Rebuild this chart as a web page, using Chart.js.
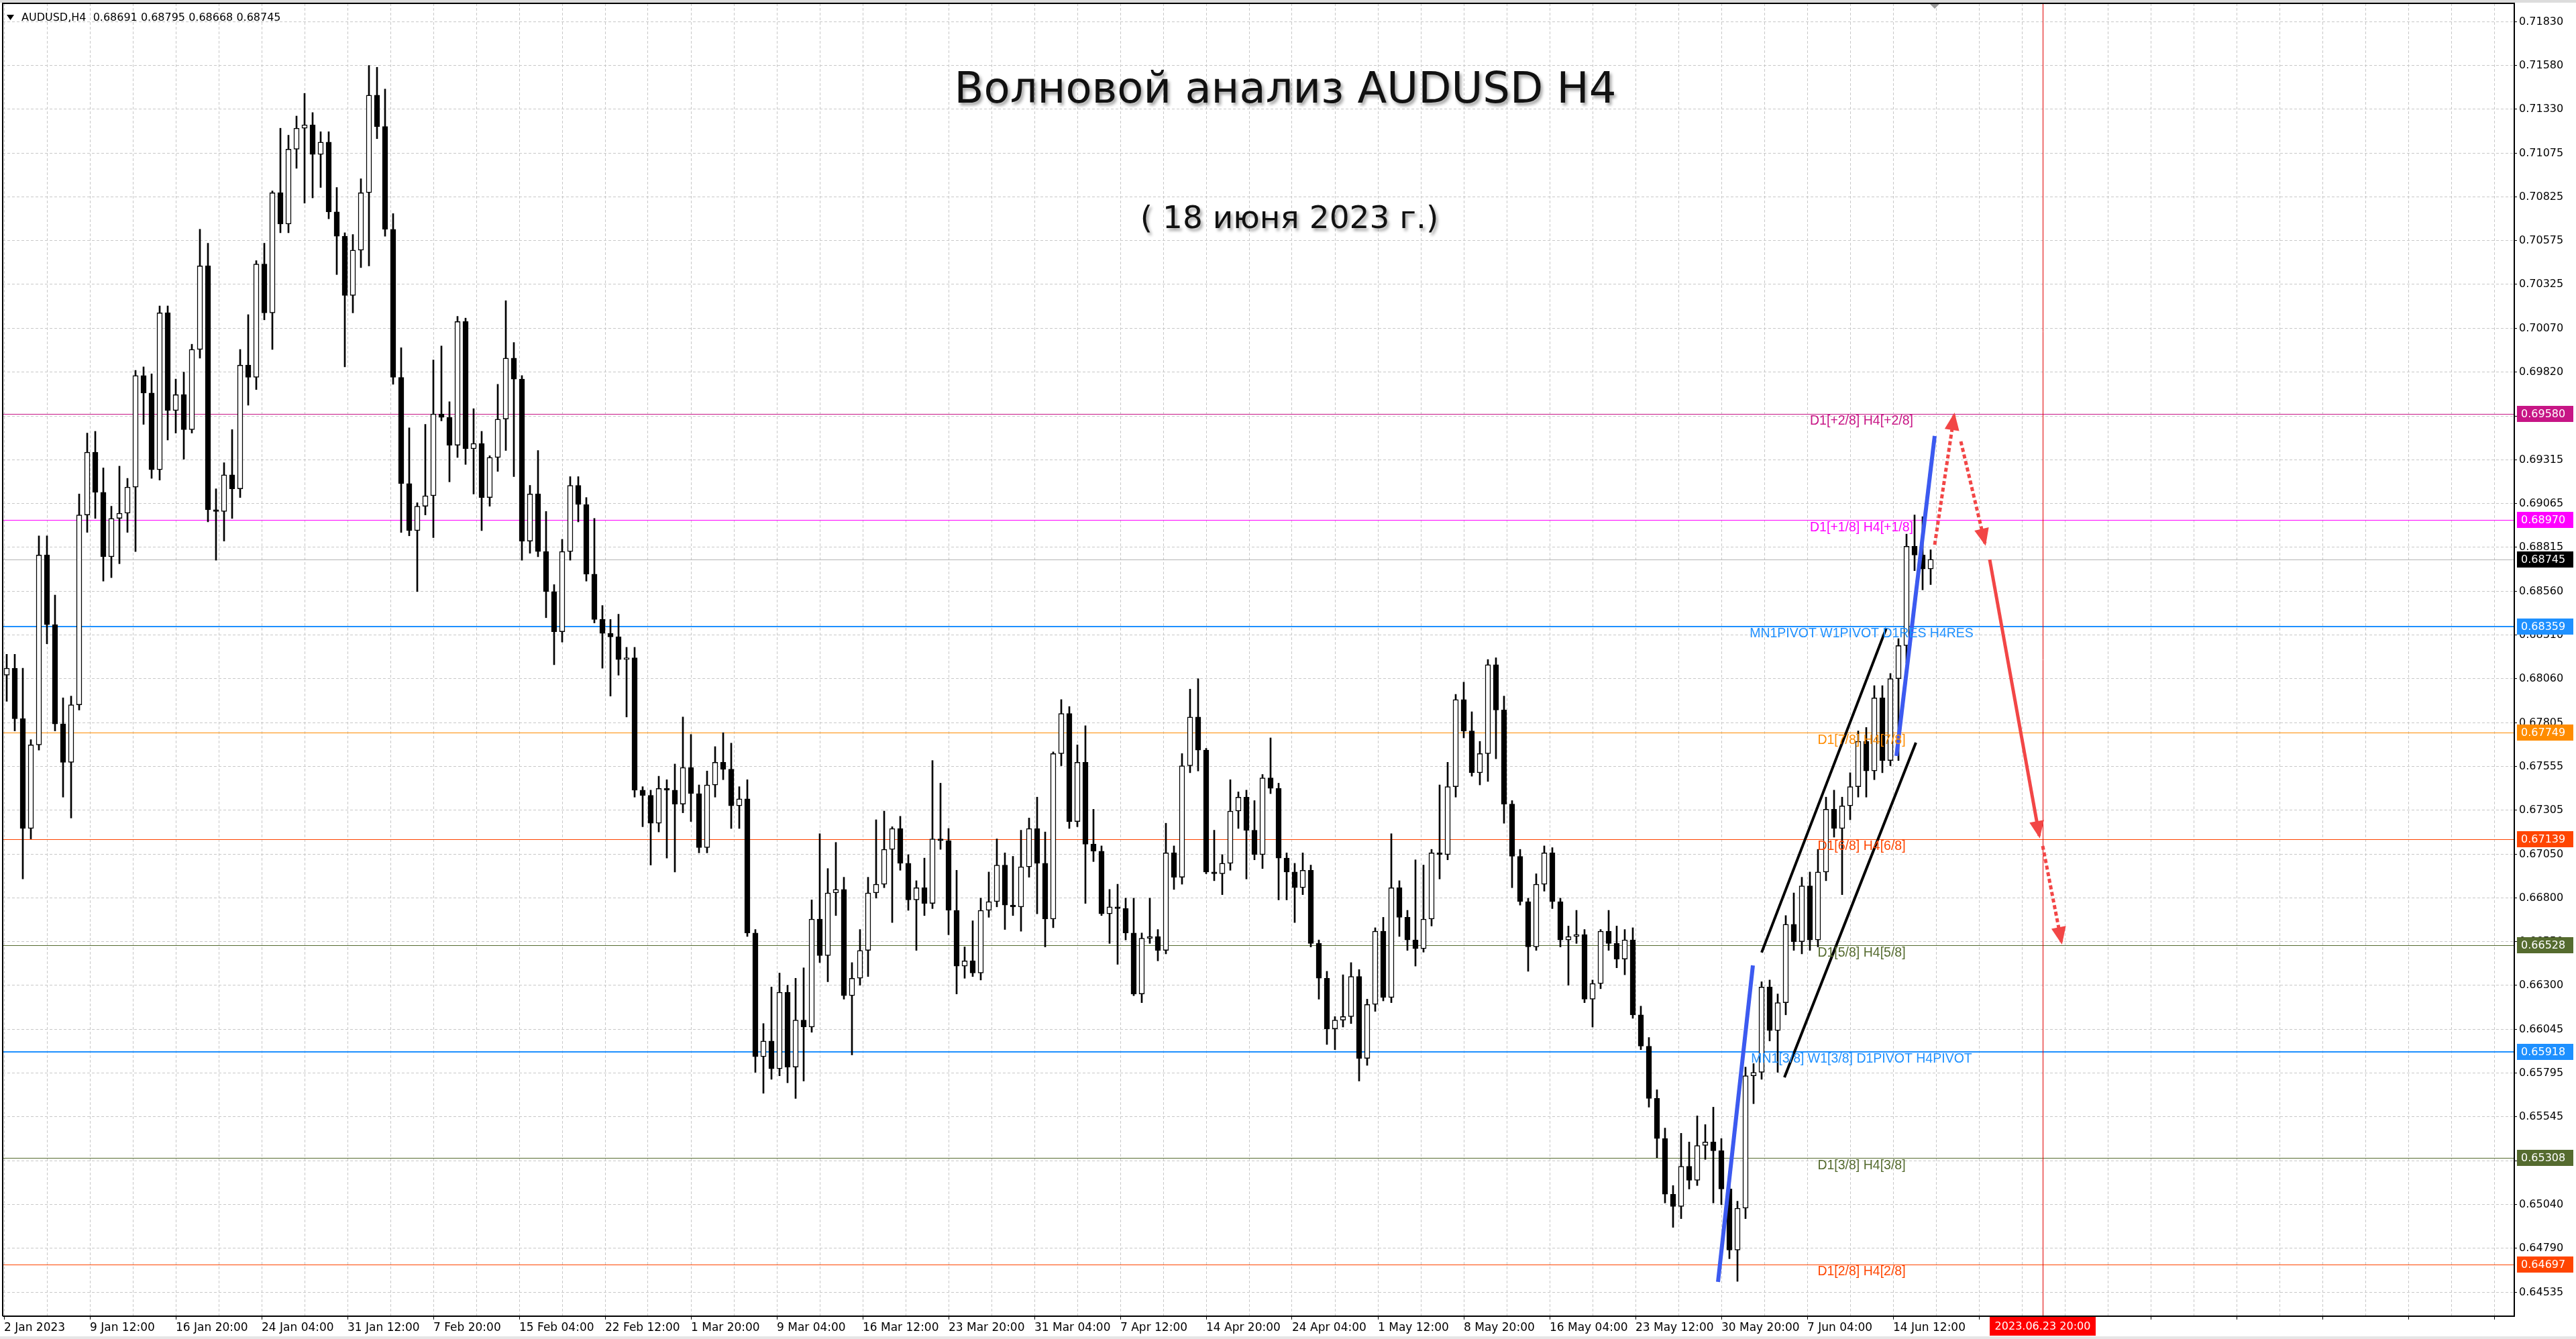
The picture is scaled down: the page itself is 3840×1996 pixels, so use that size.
<!DOCTYPE html>
<html lang="ru">
<head>
<meta charset="utf-8">
<title>AUDUSD H4</title>
<script src="https://cdn.jsdelivr.net/npm/chart.js@4.4.1/dist/chart.umd.min.js"></script>
<style>
  html, body { margin: 0; padding: 0; background: #fff; overflow: hidden; }
  #chart { display: block; }
</style>
</head>
<body>
<canvas id="chart" width="3840" height="1996"></canvas>
<script>
// AUDUSD, 12h candles (3 H4 bars each), prices in points (1 pt = 0.00001)
let candle_open = [
  68080, 68120, 67830, 67200, 67680, 68770, 68370, 67800, 67580, 67910,
  69000, 69360, 69130, 68760, 68980, 69010, 69160, 69800, 69700, 69260,
  70160, 69600, 69690, 69490, 69950, 70430, 69030, 69020, 69230, 69150,
  69860, 69790, 70440, 70160, 70850, 70670, 71100, 71220, 71240, 71070,
  71140, 70740, 70600, 70260, 70520, 70850, 71410, 71230, 70640, 69790,
  69180, 68910, 69050, 69110, 69580, 69560, 69400, 70110, 69380, 69410,
  69100, 69330, 69550, 69900, 69780, 68850, 69120, 68790, 68560, 68330,
  68790, 69170, 69060, 68660, 68400, 68320, 68300, 68170, 68180, 67420,
  67390, 67230, 67430, 67420, 67340, 67550, 67400, 67090, 67450, 67580,
  67540, 67330, 67370, 66600, 65890, 65980, 65820, 66260, 65830, 66100,
  66060, 66680, 66470, 66830, 66850, 66240, 66340, 66500, 66830, 66880,
  67080, 67200, 67000, 66790, 66860, 66770, 67140, 67130, 66730, 66410,
  66440, 66370, 66730, 66780, 66990, 66760, 66750, 66980, 67200, 67000,
  66680, 67630, 67860, 67240, 67580, 67110, 67070, 66710, 66750, 66740,
  66600, 66250, 66570, 66580, 66500, 67060, 66920, 67560, 67840, 67650,
  66950, 66940, 67000, 67300, 67380, 67190, 67050, 67490, 67430, 67030,
  66950, 66860, 66960, 66540, 66340, 66050, 66100, 66120, 66350, 65880,
  66190, 66610, 66230, 66860, 66690, 66560, 66510, 66680, 67060, 67050,
  67440, 67940, 67760, 67520, 67630, 68140, 67880, 67340, 67040, 66780,
  66520, 66880, 67060, 66780, 66560, 66580, 66590, 66220, 66310, 66610,
  66540, 66450, 66560, 66130, 65950, 65650, 65420, 65100, 65030, 65260,
  65180, 65380, 65400, 65350, 65130, 64780, 65020, 65780, 65800, 66290,
  66040, 66200, 66650, 66550, 66870, 66560, 66950, 67310, 67200, 67330,
  67440, 67700, 67530, 67950, 67590, 68060, 68250, 68820, 68770, 68690
]
let candle_high = [
  68200, 68200, 68120, 67710, 68880, 68880, 68540, 67950, 67960, 69120,
  69470, 69480, 69270, 69050, 69280, 69210, 69830, 69850, 69810, 70200,
  70200, 69780, 69820, 69980, 70640, 70560, 69150, 69300, 69490, 69950,
  70150, 70460, 70560, 70860, 71220, 71180, 71290, 71420, 71310, 71200,
  71200, 70880, 70620, 70610, 70930, 71580, 71570, 71445, 70730, 69960,
  69500, 69070, 69520, 69890, 69970, 69650, 70140, 70130, 69610, 69480,
  69340, 69750, 70230, 69990, 69800, 69170, 69370, 69020, 68600, 68860,
  69220, 69220, 69100, 68980, 68480, 68400, 68430, 68240, 68240, 67440,
  67420, 67500, 67480, 67570, 67840, 67740, 67450, 67530, 67670, 67750,
  67690, 67440, 67480, 66620, 66080, 66290, 66370, 66300, 66340, 66400,
  66790, 67170, 66970, 67120, 66920, 66430, 66620, 66920, 67250, 67300,
  67210, 67270, 67050, 66900, 67030, 67590, 67460, 67200, 66960, 66520,
  66670, 66800, 66950, 67140, 67060, 67040, 67190, 67260, 67380, 67180,
  67640, 67940, 67900, 67680, 67790, 67310, 67100, 66850, 66880, 66800,
  66800, 66600, 66800, 66620, 67230, 67100, 67630, 68000, 68060, 67660,
  67190, 67050, 67480, 67410, 67420, 67360, 67510, 67720, 67460, 67060,
  67000, 67060, 66990, 66560, 66380, 66120, 66360, 66430, 66390, 66220,
  66630, 66690, 67170, 66900, 66730, 67020, 66990, 67080, 67450, 67580,
  67970, 68040, 67870, 67700, 68170, 68180, 67960, 67360, 67080, 66800,
  66940, 67100, 67090, 66800, 66640, 66730, 66620, 66330, 66620, 66730,
  66640, 66620, 66630, 66180, 66000, 65700, 65480, 65150, 65450, 65400,
  65550, 65500, 65600, 65420, 65230, 65060, 65830, 65850, 66320, 66330,
  66250, 66700, 66830, 66920, 66950, 67080, 67380, 67420, 67380, 67520,
  67760, 67780, 68020, 68020, 68090, 68290, 68890, 69000, 68990, 68800
]
let candle_low = [
  67930, 67760, 66910, 67140, 67650, 68260, 67760, 67380, 67260, 67880,
  68900, 68980, 68620, 68640, 68720, 68900, 68790, 69520, 69210, 69200,
  69430, 69470, 69320, 69470, 69900, 68960, 68740, 68850, 68980, 69100,
  69630, 69720, 70120, 69950, 70620, 70620, 70990, 70790, 70820, 70880,
  70700, 70380, 69850, 70160, 70420, 70430, 71160, 70600, 69750, 68900,
  68880, 68560, 69000, 68870, 69540, 69190, 69330, 69290, 69120, 68910,
  69050, 69250, 69370, 69220, 68740, 68780, 68760, 68410, 68140, 68270,
  68740, 68960, 68620, 68380, 68120, 67960, 68080, 67840, 67380, 67210,
  66990, 67180, 67030, 66950, 67290, 67240, 67060, 67060, 67380, 67480,
  67200, 67200, 66580, 65800, 65680, 65760, 65780, 65740, 65650, 65750,
  66030, 66430, 66320, 66700, 66220, 65900, 66300, 66350, 66800, 66860,
  66660, 66960, 66730, 66500, 66700, 66740, 67080, 66590, 66250, 66340,
  66350, 66330, 66690, 66750, 66620, 66700, 66610, 66920, 66710, 66520,
  66630, 67560, 67200, 67210, 66770, 67010, 66700, 66540, 66420, 66560,
  66240, 66200, 66540, 66440, 66480, 66850, 66880, 67520, 67530, 66940,
  66900, 66820, 66960, 67200, 66910, 67020, 66970, 67400, 66790, 66790,
  66660, 66820, 66520, 66220, 65960, 65930, 66060, 66080, 65750, 65840,
  66150, 66210, 66200, 66580, 66500, 66410, 66490, 66640, 66910, 67020,
  67380, 67720, 67500, 67450, 67470, 67600, 67230, 66860, 66760, 66380,
  66500, 66840, 66740, 66520, 66300, 66540, 66200, 66060, 66280, 66500,
  66400, 66360, 66110, 65930, 65600, 65310, 65050, 64910, 64960, 65130,
  65150, 65300, 65050, 65040, 64730, 64600, 64960, 65620, 65760, 65980,
  65800, 66130, 66500, 66480, 66500, 66520, 66900, 67150, 66820, 67250,
  67380, 67380, 67480, 67520, 67560, 67590, 68150, 68680, 68570, 68600
]
let candle_close = [
  68120, 67830, 67200, 67680, 68770, 68370, 67800, 67580, 67910, 69000,
  69360, 69130, 68760, 68980, 69010, 69160, 69800, 69700, 69260, 70160,
  69600, 69690, 69490, 69950, 70430, 69030, 69020, 69230, 69150, 69860,
  69790, 70440, 70160, 70850, 70670, 71100, 71220, 71240, 71070, 71140,
  70740, 70600, 70260, 70520, 70850, 71410, 71230, 70640, 69790, 69180,
  68910, 69050, 69110, 69580, 69560, 69400, 70110, 69380, 69410, 69100,
  69330, 69550, 69900, 69780, 68850, 69120, 68790, 68560, 68330, 68790,
  69170, 69060, 68660, 68400, 68320, 68300, 68170, 68180, 67420, 67390,
  67230, 67430, 67420, 67340, 67550, 67400, 67090, 67450, 67580, 67540,
  67330, 67370, 66600, 65890, 65980, 65820, 66260, 65830, 66100, 66060,
  66680, 66470, 66830, 66850, 66240, 66340, 66500, 66830, 66880, 67080,
  67200, 67000, 66790, 66860, 66770, 67140, 67130, 66730, 66410, 66440,
  66370, 66730, 66780, 66990, 66760, 66750, 66980, 67200, 67000, 66680,
  67630, 67860, 67240, 67580, 67110, 67070, 66710, 66750, 66740, 66600,
  66250, 66570, 66580, 66500, 67060, 66920, 67560, 67840, 67650, 66950,
  66940, 67000, 67300, 67380, 67190, 67050, 67490, 67430, 67030, 66950,
  66860, 66960, 66540, 66340, 66050, 66100, 66120, 66350, 65880, 66190,
  66610, 66230, 66860, 66690, 66560, 66510, 66680, 67060, 67050, 67440,
  67940, 67760, 67520, 67630, 68140, 67880, 67340, 67040, 66780, 66520,
  66880, 67060, 66780, 66560, 66580, 66590, 66220, 66310, 66610, 66540,
  66450, 66560, 66130, 65950, 65650, 65420, 65100, 65030, 65260, 65180,
  65380, 65400, 65350, 65130, 64780, 65020, 65780, 65800, 66290, 66040,
  66200, 66650, 66550, 66870, 66560, 66950, 67310, 67200, 67330, 67440,
  67700, 67530, 67950, 67590, 68060, 68250, 68820, 68770, 68690, 68745
]
let bars_per_candle = 3   // H4 bars in one drawn candle

// time axis: a label every 32 H4 bars, starting at bar 0
let x_labels = ['2 Jan 2023', '9 Jan 12:00', '16 Jan 20:00', '24 Jan 04:00', '31 Jan 12:00',
  '7 Feb 20:00', '15 Feb 04:00', '22 Feb 12:00', '1 Mar 20:00', '9 Mar 04:00', '16 Mar 12:00',
  '23 Mar 20:00', '31 Mar 04:00', '7 Apr 12:00', '14 Apr 20:00', '24 Apr 04:00', '1 May 12:00',
  '8 May 20:00', '16 May 04:00', '23 May 12:00', '30 May 20:00', '7 Jun 04:00', '14 Jun 12:00']
let y_ticks = [0.71830, 0.71580, 0.71330, 0.71075, 0.70825, 0.70575, 0.70325, 0.70070, 0.69820,
  0.69565, 0.69315, 0.69065, 0.68815, 0.68560, 0.68310, 0.68060, 0.67805, 0.67555, 0.67305,
  0.67050, 0.66800, 0.66550, 0.66300, 0.66045, 0.65795, 0.65545, 0.65290, 0.65040, 0.64790, 0.64535]

// Murrey / pivot levels
let level_prices = [0.69580, 0.68970, 0.68359, 0.67749, 0.67139, 0.66528, 0.65918, 0.65308, 0.64697]
let level_texts = ['D1[+2/8] H4[+2/8]', 'D1[+1/8] H4[+1/8]', 'MN1PIVOT W1PIVOT D1RES H4RES',
  'D1[7/8] H4[7/8]', 'D1[6/8] H4[6/8]', 'D1[5/8] H4[5/8]', 'MN1[3/8] W1[3/8] D1PIVOT H4PIVOT',
  'D1[3/8] H4[3/8]', 'D1[2/8] H4[2/8]']
let level_colors = ['#C71585', '#FF00FF', '#1E90FF', '#FF8C00', '#FF4500', '#556B2F', '#1E90FF', '#556B2F', '#FF4500']
let level_widths = [1, 1, 2, 1, 1, 1, 2, 1, 1]
let bid_price = 0.68745
let last_bar = [0.68691, 0.68795, 0.68668, 0.68745]
let cursor_time = '2023.06.23 20:00'
let cursor_bar = 759.75

// drawn analysis: [bar, price] end points
let wave_lines = [
  [[638.75, 0.64597], [651.75, 0.66414]],
  [[705.25, 0.67616], [719.5, 0.69453]]
]
let channel_lines = [
  [[655, 0.66488], [701.5, 0.68351]],
  [[663.5, 0.65771], [712.5, 0.67693]]
]
let forecast_lines = [
  [[719.5, 0.68829], [726.75, 0.69572]],
  [[729.25, 0.69422], [738.25, 0.68837]],
  [[740, 0.68744], [758.5, 0.67158]],
  [[759.75, 0.67100], [766.75, 0.66549]]
]
let forecast_dotted = [true, true, false, true]

let PT = 0.00001
let font_family = '"DejaVu Sans", "Liberation Sans", sans-serif'
let caption_family = '"Liberation Sans", Arial, sans-serif'
let forecast_color = '#F24646'

let wick_data = []
let body_data = []
let body_colors = []
for (let k = 0; k < candle_open.length; k++) {
    let x = k * bars_per_candle + 1
    wick_data.push({x: x, y: [candle_low[k] * PT, candle_high[k] * PT]})
    body_data.push({x: x, y: [candle_open[k] * PT, candle_close[k] * PT]})
    body_colors.push(candle_close[k] >= candle_open[k] ? '#ffffff' : '#000000')
}

function segment(points, color, width, dash) {
    return {
        type: 'line',
        data: points.map(p => ({x: p[0], y: p[1]})),
        borderColor: color,
        borderWidth: width,
        borderDash: dash,
        borderCapStyle: 'butt',
        pointRadius: 0,
        fill: false,
        tension: 0,
        order: 0
    }
}

let datasets = []
wave_lines.forEach(l => datasets.push(segment(l, '#3C5AF0', 6, [])))
channel_lines.forEach(l => datasets.push(segment(l, '#000000', 4, [])))
forecast_lines.forEach((l, i) => datasets.push(segment(l, forecast_color, 5, forecast_dotted[i] ? [6, 4] : [])))
datasets.push({
    label: 'body', data: body_data, backgroundColor: body_colors, borderColor: '#000000',
    borderWidth: 1.5, borderSkipped: false, barThickness: 8, grouped: false, order: 1
})
datasets.push({
    label: 'wick', data: wick_data, backgroundColor: '#000000', borderWidth: 0,
    barThickness: 2, grouped: false, order: 2
})

let overlay = {
    id: 'overlay',
    beforeDatasetsDraw(chart) {
        let ctx = chart.ctx
        let area = chart.chartArea
        let ys = chart.scales.y
        ctx.save()
        for (let i = 0; i < level_prices.length; i++) {
            let y = Math.round(ys.getPixelForValue(level_prices[i])) + (level_widths[i] % 2 ? 0.5 : 0)
            ctx.strokeStyle = level_colors[i]
            ctx.lineWidth = level_widths[i]
            ctx.beginPath()
            ctx.moveTo(area.left, y)
            ctx.lineTo(area.right, y)
            ctx.stroke()
        }
        let by = Math.round(ys.getPixelForValue(bid_price)) + 0.5
        ctx.strokeStyle = '#B4B4B4'
        ctx.lineWidth = 1
        ctx.beginPath(); ctx.moveTo(area.left, by); ctx.lineTo(area.right, by); ctx.stroke()

        let vx = Math.round(chart.scales.x.getPixelForValue(cursor_bar)) + 0.5
        ctx.strokeStyle = '#E00000'
        ctx.beginPath(); ctx.moveTo(vx, area.top); ctx.lineTo(vx, area.bottom); ctx.stroke()
        ctx.restore()
    },
    afterDatasetsDraw(chart) {
        let ctx = chart.ctx
        let xs = chart.scales.x, ys = chart.scales.y
        ctx.save()
        // level captions
        ctx.font = '19.5px ' + caption_family
        ctx.textAlign = 'center'
        ctx.textBaseline = 'middle'
        let tx = xs.getPixelForValue(692.25)
        for (let i = 0; i < level_prices.length; i++) {
            ctx.fillStyle = level_colors[i]
            ctx.fillText(level_texts[i], tx, ys.getPixelForValue(level_prices[i]) + 11)
        }
        // arrow heads
        ctx.fillStyle = forecast_color
        for (let l of forecast_lines) {
            let x0 = xs.getPixelForValue(l[0][0]), y0 = ys.getPixelForValue(l[0][1])
            let x1 = xs.getPixelForValue(l[1][0]), y1 = ys.getPixelForValue(l[1][1])
            let a = Math.atan2(y1 - y0, x1 - x0)
            let len = 22, half = 11
            ctx.beginPath()
            ctx.moveTo(x1 + Math.cos(a) * 4, y1 + Math.sin(a) * 4)
            ctx.lineTo(x1 - Math.cos(a) * len + Math.sin(a) * half, y1 - Math.sin(a) * len - Math.cos(a) * half)
            ctx.lineTo(x1 - Math.cos(a) * len - Math.sin(a) * half, y1 - Math.sin(a) * len + Math.cos(a) * half)
            ctx.closePath()
            ctx.fill()
        }
        ctx.restore()
    },
    afterDraw(chart) {
        let ctx = chart.ctx
        let area = chart.chartArea
        let xs = chart.scales.x, ys = chart.scales.y
        ctx.save()
        // window strips and frame
        ctx.fillStyle = '#DCDCDC'
        ctx.fillRect(0, 0, 3840, 4)
        ctx.fillStyle = '#E6E6E6'
        ctx.fillRect(0, 1992, 3840, 4)
        ctx.strokeStyle = '#000000'
        ctx.lineWidth = 2
        ctx.beginPath()
        ctx.moveTo(area.left, area.bottom)
        ctx.lineTo(area.left, area.top)
        ctx.lineTo(area.right, area.top)
        ctx.lineTo(area.right, area.bottom)
        ctx.lineTo(area.left, area.bottom)
        ctx.stroke()

        // shift marker
        let sx = xs.getPixelForValue(719.5)
        ctx.fillStyle = '#9A9A9A'
        ctx.beginPath(); ctx.moveTo(sx - 7, area.top + 1); ctx.lineTo(sx + 7, area.top + 1); ctx.lineTo(sx, area.top + 8); ctx.closePath(); ctx.fill()

        // price boxes on the axis
        ctx.font = '16px ' + font_family
        ctx.textAlign = 'left'
        ctx.textBaseline = 'middle'
        let boxes = level_prices.map((p, i) => [p, level_colors[i]])
        boxes.push([bid_price, '#000000'])
        for (let b of boxes) {
            let y = Math.round(ys.getPixelForValue(b[0]))
            ctx.fillStyle = b[1]
            ctx.fillRect(area.right + 4, y - 12, 84, 24)
            ctx.fillStyle = '#ffffff'
            ctx.fillText(b[0].toFixed(5), area.right + 10, y + 1)
        }

        // time box under the red line
        let vx = xs.getPixelForValue(cursor_bar)
        ctx.fillStyle = '#FF0000'
        ctx.fillRect(vx - 79, area.bottom + 1, 158, 28)
        ctx.fillStyle = '#ffffff'
        ctx.textAlign = 'center'
        ctx.fillText(cursor_time, vx, area.bottom + 16)

        // header
        ctx.fillStyle = '#000000'
        ctx.beginPath(); ctx.moveTo(10, 22); ctx.lineTo(21, 22); ctx.lineTo(15.5, 30); ctx.closePath(); ctx.fill()
        ctx.textAlign = 'left'
        ctx.font = '16px ' + font_family
        ctx.fillText('AUDUSD,H4  ' + last_bar.map(v => v.toFixed(5)).join(' '), 32, 27)

        // titles, with the soft drop shadow of the original
        ctx.textAlign = 'center'
        ctx.fillStyle = '#111111'
        ctx.shadowColor = 'rgba(0,0,0,0.35)'
        ctx.shadowOffsetX = 3
        ctx.shadowOffsetY = 4
        ctx.shadowBlur = 4
        ctx.font = '64px ' + font_family
        ctx.fillText('Волновой анализ AUDUSD H4', 1916, 136)
        ctx.font = '47px ' + font_family
        ctx.fillText('( 18 июня 2023 г.)', 1922, 328)
        ctx.restore()
    }
}

let grid_color = '#C8C8C8'

new Chart(document.getElementById('chart'), {
    type: 'bar',
    data: {datasets: datasets},
    options: {
        responsive: false,
        animation: false,
        devicePixelRatio: 1,
        layout: {padding: {left: 4, top: 5, right: 0, bottom: 0}},
        plugins: {legend: {display: false}, tooltip: {enabled: false}},
        scales: {
            x: {
                type: 'linear',
                min: -0.5,
                max: 935.5,
                offset: false,
                grid: {
                    offset: false, color: grid_color, lineWidth: 1, tickLength: 5, tickWidth: 1,
                    tickColor: c => (c.tick && c.tick.value % 32 === 0) ? '#000000' : 'rgba(0,0,0,0)',
                    tickBorderDash: []
                },
                border: {display: false, dash: [4, 3]},
                ticks: {
                    autoSkip: false, maxRotation: 0, minRotation: 0, align: 'start', padding: 2,
                    color: '#000000', font: {family: font_family, size: 17},
                    callback: v => (v % 32 === 0 && v / 32 < x_labels.length) ? x_labels[v / 32] : ''
                },
                afterBuildTicks: s => {
                    let t = []
                    for (let v = 0; v <= 928; v += 16) t.push({value: v})
                    s.ticks = t
                },
                afterFit: s => { s.height = 34; s.paddingLeft = 0; s.paddingRight = 0 }
            },
            y: {
                type: 'linear',
                position: 'right',
                min: 0.64400,
                max: 0.71937,
                grid: {color: grid_color, lineWidth: 1, tickLength: 4, tickColor: '#000000', tickBorderDash: []},
                border: {display: false, dash: [4, 3]},
                ticks: {
                    padding: 3, color: '#000000', font: {family: font_family, size: 16},
                    callback: v => v.toFixed(5)
                },
                afterBuildTicks: s => { s.ticks = y_ticks.map(v => ({value: v})) },
                afterFit: s => { s.width = 92; s.paddingTop = 0; s.paddingBottom = 0 }
            }
        }
    },
    plugins: [overlay]
})
</script>
</body>
</html>
